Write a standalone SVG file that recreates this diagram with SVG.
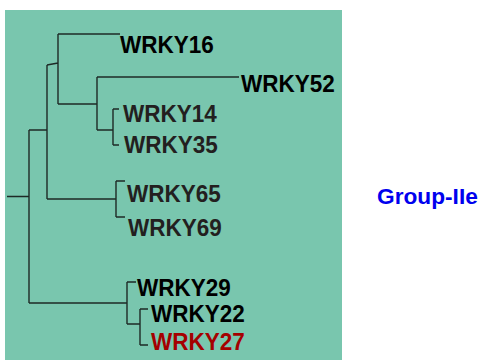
<svg xmlns="http://www.w3.org/2000/svg" width="480" height="360" viewBox="0 0 480 360">
<style>
.t{font-family:"Liberation Sans",Arial,sans-serif;font-weight:bold;font-size:22.5px}
.k{fill:#000}
.d{fill:#231f20}
.r{fill:#a50000}
.e{fill:none;stroke:#1e2a26;stroke-width:1.4}
</style>
<rect x="0" y="0" width="480" height="360" fill="#fff"/>
<rect id="panel" x="5" y="10" width="337" height="350" fill="#79c6ae"/>
<g id="connectors" class="e">
<path d="M7,196.5H29M29,130V303"/>
<path d="M29,130H47M47,65V199"/>
<path d="M47,65L58,63M58,34V104"/>
<path d="M58,34H120"/>
<path d="M58,104H97M97,77V130"/>
<path d="M97,77H239"/>
<path d="M97,130H113M113,109V145M113,109H119M113,145H119"/>
<path d="M47,199H116M116,181V217M116,181H125M116,217H125"/>
<path d="M29,303H127M127,282V324M127,282H136"/>
<path d="M127,324H140M140,309V345M140,309H148M140,345H148"/>
</g>
<g id="WRKY16"><text class="t k" transform="translate(120,53) scale(1,1.1)">WRKY16</text></g>
<g id="WRKY52"><text class="t k" transform="translate(241,92) scale(1,1.1)">WRKY52</text></g>
<g id="WRKY14"><text class="t d" transform="translate(123,122) scale(1,1.1)">WRKY14</text></g>
<g id="WRKY35"><text class="t d" transform="translate(124,153) scale(1,1.1)">WRKY35</text></g>
<g id="WRKY65"><text class="t d" transform="translate(127,202) scale(1,1.1)">WRKY65</text></g>
<g id="WRKY69"><text class="t d" transform="translate(128,236) scale(1,1.1)">WRKY69</text></g>
<g id="WRKY29"><text class="t k" transform="translate(137,296) scale(1,1.1)">WRKY29</text></g>
<g id="WRKY22"><text class="t k" transform="translate(151,322) scale(1,1.1)">WRKY22</text></g>
<g id="WRKY27"><text class="t r" transform="translate(151,350) scale(1,1.1)">WRKY27</text></g>
<g id="group"><text x="377" y="204" font-family="Liberation Sans,Arial,sans-serif" font-weight="bold" font-size="22.7" fill="#0000ee">Group-IIe</text></g>
</svg>
